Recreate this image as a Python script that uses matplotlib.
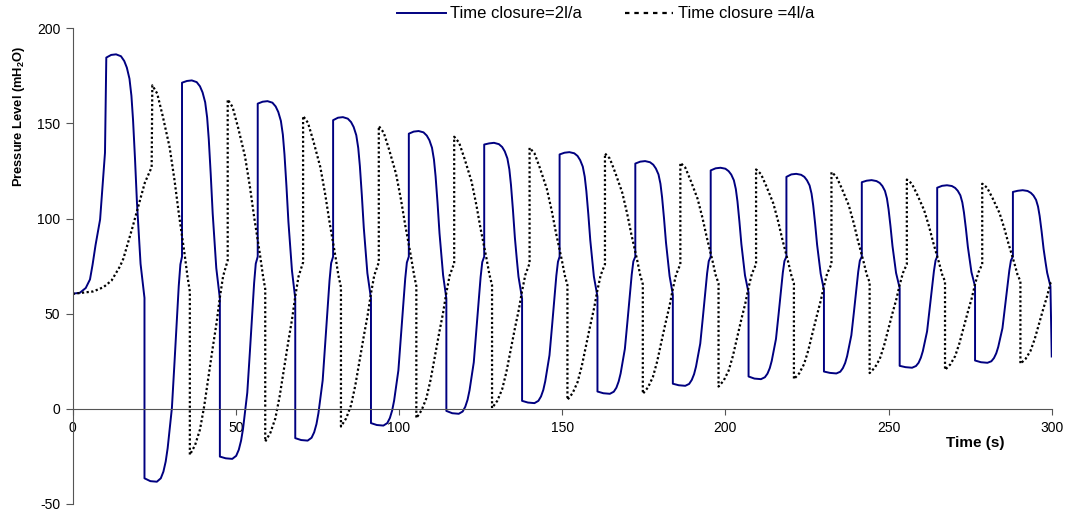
import matplotlib
matplotlib.use("Agg")
import matplotlib.pyplot as plt
from matplotlib.lines import Line2D

plt.rcParams['font.family'] = ['Liberation Sans', 'DejaVu Sans']
plt.rcParams['mathtext.fontset'] = 'custom'
plt.rcParams['mathtext.rm'] = 'Liberation Sans'
plt.rcParams['mathtext.bf'] = 'Liberation Sans:bold'
plt.rcParams['axes.unicode_minus'] = False

# ==============================================================================
#                 Values (time in s, head in m)
# ==============================================================================

# --- Time closure = 2l/a (solid) ---
blue_start_t = [0, 2.2, 4.0, 5.3, 6.1, 7.0, 8.4, 9.9]
blue_start_p = [60.5, 61.0, 63.5, 68.0, 75.8, 86.0, 99.5, 134.6]
blue_rise_t = [10.3, 33.5, 56.7, 79.8, 103.0, 126.1, 149.2, 172.4, 195.5,
               218.7, 241.8, 264.9, 288.1]
blue_fall_t = [22.0, 45.1, 68.2, 91.4, 114.5, 137.7, 160.8, 183.9, 207.1,
               230.2, 253.4, 276.5, 299.6]
# seconds after each rise / fall where the curve was read
blue_top_dt = [0, 1.5, 3.0, 4.5, 5.5, 6.3, 7.1, 7.7, 8.2, 8.8, 9.4, 10.0, 10.5]
blue_bottom_dt = [0, 1.8, 3.8, 5.0, 5.8, 6.5, 7.1, 7.7, 8.4, 9.2, 10.0, 10.5,
                  11.0]
blue_top = [
    [184.6, 186.0, 186.3, 185.3, 182.8, 179.3, 173.5, 164.5, 151.7, 131.3, 108.2, 90.3, 76.2, 58.3],
    [171.4, 172.3, 172.6, 171.7, 169.5, 166.3, 161.1, 153.1, 141.7, 123.3, 102.7, 86.6, 74.0, 58.0],
    [160.4, 161.4, 161.7, 160.9, 158.9, 156.0, 151.3, 144.1, 133.7, 117.1, 98.4, 83.9, 72.5, 58.0],
    [151.7, 153.0, 153.3, 152.5, 150.7, 148.1, 143.8, 137.1, 127.6, 112.3, 95.2, 81.8, 71.3, 58.0],
    [144.6, 145.7, 146.0, 145.3, 143.6, 141.2, 137.2, 131.0, 122.2, 108.2, 92.3, 80.0, 70.3, 58.0],
    [138.9, 139.5, 139.8, 139.1, 137.6, 135.3, 131.6, 125.9, 117.7, 104.6, 89.9, 78.4, 69.5, 58.0],
    [133.7, 134.6, 134.9, 134.3, 132.9, 130.7, 127.3, 122.0, 114.4, 102.3, 88.6, 78.0, 69.6, 59.0],
    [128.9, 129.9, 130.2, 129.6, 128.3, 126.3, 123.2, 118.3, 111.2, 100.0, 87.4, 77.5, 69.8, 60.0],
    [125.3, 126.4, 126.7, 126.2, 124.9, 123.1, 120.1, 115.5, 109.0, 98.4, 86.6, 77.4, 70.2, 61.0],
    [121.9, 123.2, 123.5, 123.0, 121.9, 120.1, 117.4, 113.1, 107.0, 97.3, 86.3, 77.7, 71.0, 62.5],
    [119.1, 119.9, 120.2, 119.7, 118.7, 117.1, 114.5, 110.6, 104.9, 95.8, 85.6, 77.7, 71.4, 63.5],
    [116.2, 117.2, 117.5, 117.1, 116.1, 114.6, 112.2, 108.5, 103.2, 94.7, 85.1, 77.7, 71.8, 64.4],
    [114.0, 114.6, 114.9, 114.5, 113.5, 112.1, 109.8, 106.3, 101.3, 93.2, 84.1, 77.0, 71.5, 64.4],
]
blue_bottom = [
    [-36.5, -38.0, -38.3, -36.5, -33.0, -27.7, -20.7, -11.1, 0.4, 24.4, 49.5, 64.6, 75.9, 80.0],
    [-25.1, -26.0, -26.3, -24.7, -21.5, -16.7, -10.5, -1.9, 8.5, 30.0, 52.6, 66.2, 76.3, 80.0],
    [-15.4, -16.4, -16.7, -15.2, -12.3, -8.0, -2.3, 5.5, 14.9, 34.6, 55.1, 67.4, 76.6, 80.0],
    [-7.5, -8.5, -8.8, -7.5, -4.8, -0.8, 4.4, 11.6, 20.2, 38.3, 57.1, 68.5, 76.9, 80.0],
    [-1.1, -2.3, -2.6, -1.4, 1.1, 4.8, 9.7, 16.4, 24.4, 41.2, 58.7, 69.3, 77.1, 80.0],
    [4.2, 3.3, 3.0, 4.2, 6.5, 9.9, 14.5, 20.7, 28.2, 43.8, 60.1, 70.0, 77.3, 80.0],
    [9.1, 8.2, 7.9, 9.0, 11.1, 14.4, 18.6, 24.5, 31.5, 46.1, 61.4, 70.6, 77.5, 80.0],
    [13.2, 12.4, 12.1, 13.1, 15.2, 18.2, 22.2, 27.7, 34.3, 48.1, 62.5, 71.2, 77.6, 80.0],
    [17.0, 15.9, 15.6, 16.6, 18.5, 21.4, 25.2, 30.4, 36.7, 49.7, 63.4, 71.6, 77.7, 80.0],
    [19.6, 18.9, 18.6, 19.5, 21.4, 24.1, 27.7, 32.7, 38.7, 51.1, 64.2, 72.0, 77.9, 80.0],
    [22.6, 21.9, 21.6, 22.5, 24.2, 26.9, 30.3, 35.0, 40.7, 52.6, 64.9, 72.4, 78.0, 80.0],
    [25.4, 24.5, 24.2, 25.0, 26.7, 29.2, 32.5, 37.0, 42.4, 53.8, 65.6, 72.7, 78.0, 80.0],
]
blue_end = (300.0, 27.5)

# --- Time closure = 4l/a (dotted) ---
dot_start_t = [0, 6.3, 9.4, 11.9, 14.5, 15.5, 18.1, 20.1, 22.1, 23.7, 24.2]
dot_start_p = [60.4, 61.7, 63.9, 67.4, 74.9, 78.8, 94.0, 106.5, 118.8, 125.0,
               127.0]
dot_rise_t = [24.4, 47.5, 70.6, 93.8, 116.9, 140.0, 163.1, 186.2, 209.4,
              232.5, 255.6, 278.7]
dot_fall_t = [35.9, 59.0, 82.2, 105.3, 128.5, 151.6, 174.7, 197.9, 221.0,
              244.2, 267.3, 290.4]
dot_top_dt = [0, 1.5, 3.2, 5.3, 6.8, 8.1, 9.9, 10.8]
dot_bottom_dt = [0, 1.6, 3.1, 4.4, 5.6, 7.0, 8.2, 9.2, 10.2]
dot_top = [
    [170.0, 165.7, 153.8, 137.5, 120.2, 102.9, 81.2, 69.3, 61.7],
    [162.6, 158.6, 147.7, 132.7, 116.8, 100.8, 80.9, 70.0, 63.0],
    [153.9, 150.3, 140.4, 126.9, 112.5, 98.2, 80.2, 70.3, 64.0],
    [148.6, 145.2, 136.0, 123.4, 109.9, 96.5, 79.6, 70.4, 64.5],
    [143.0, 139.9, 131.3, 119.6, 107.1, 94.6, 79.0, 70.5, 65.0],
    [137.2, 134.3, 126.4, 115.5, 104.0, 92.4, 78.0, 70.1, 65.0],
    [134.2, 131.5, 123.9, 113.6, 102.6, 91.6, 77.9, 70.3, 65.5],
    [129.3, 126.8, 119.8, 110.3, 100.2, 90.1, 77.4, 70.4, 66.0],
    [125.8, 123.4, 116.8, 107.9, 98.3, 88.7, 76.8, 70.2, 66.0],
    [124.4, 122.1, 115.7, 107.0, 97.8, 88.5, 76.9, 70.6, 66.5],
    [120.5, 118.4, 112.5, 104.4, 95.9, 87.3, 76.6, 70.7, 67.0],
    [118.3, 116.2, 110.6, 102.9, 94.7, 86.5, 76.2, 70.6, 67.0],
]
dot_bottom = [
    [-24.2, -19.1, -10.9, 1.4, 15.7, 32.0, 45.3, 58.6, 69.8, 78.0],
    [-17.2, -12.5, -5.0, 6.4, 19.5, 34.6, 46.9, 59.1, 69.5, 77.0],
    [-9.3, -5.0, 1.9, 12.3, 24.4, 38.2, 49.4, 60.6, 70.1, 77.0],
    [-4.9, -0.8, 5.7, 15.5, 26.8, 39.9, 50.5, 61.0, 70.0, 76.5],
    [0.4, 4.2, 10.3, 19.4, 30.1, 42.3, 52.1, 62.0, 70.4, 76.5],
    [4.7, 8.3, 14.0, 22.5, 32.5, 43.9, 53.2, 62.5, 70.3, 76.0],
    [7.9, 11.3, 16.8, 24.9, 34.5, 45.4, 54.2, 63.1, 70.6, 76.0],
    [11.7, 14.9, 20.1, 27.8, 36.8, 47.1, 55.4, 63.8, 70.9, 76.0],
    [15.6, 18.6, 23.5, 30.7, 39.2, 48.8, 56.7, 64.5, 71.2, 76.0],
    [18.8, 21.7, 26.2, 33.1, 41.1, 50.3, 57.7, 65.1, 71.4, 76.0],
    [20.5, 23.3, 27.7, 34.4, 42.1, 51.0, 58.2, 65.5, 71.6, 76.0],
    [23.7, 26.3, 30.5, 36.8, 44.1, 52.5, 59.3, 66.1],
]
dot_end = (300.0, 67.0)

x_ticks = [0, 50, 100, 150, 200, 250, 300]
y_ticks = [-50, 0, 50, 100, 150, 200]
labels = ['Time closure=2l/a', 'Time closure =4l/a']


def build_series(start_t, start_p, rise_t, fall_t, top, top_dt,
                 bottom, bottom_dt, end):
    """Chain the read points: jump up at rise_t, drop at fall_t."""
    t = list(start_t)
    p = list(start_p)
    for k, (tr, tf) in enumerate(zip(rise_t, fall_t)):
        t += [tr + d for d in top_dt] + [tf]
        p += top[k]
        if k < len(bottom):
            times = [tf + d for d in bottom_dt]
            if k + 1 < len(rise_t):
                times.append(rise_t[k + 1])
            n = min(len(times), len(bottom[k]))
            t += times[:n]
            p += bottom[k][:n]
    t.append(end[0])
    p.append(end[1])
    return t, p


blue_t, blue_p = build_series(blue_start_t, blue_start_p, blue_rise_t,
                              blue_fall_t, blue_top, blue_top_dt,
                              blue_bottom, blue_bottom_dt, blue_end)
dot_t, dot_p = build_series(dot_start_t, dot_start_p, dot_rise_t,
                            dot_fall_t, dot_top, dot_top_dt,
                            dot_bottom, dot_bottom_dt, dot_end)

# ==============================================================================
#                                 Plot
# ==============================================================================
fig = plt.figure(figsize=(10.72, 5.16), dpi=100)
ax = fig.add_axes([0.0678, 0.0233, 0.9133, 0.9219])

blue_col = '#000080'
ax.plot(blue_t, blue_p, color=blue_col, lw=1.4, solid_joinstyle='round')
ax.plot(dot_t, dot_p, color='black', lw=1.6, linestyle=(0, (1, 1.1)))

ax.set_xlim(0, 300)
ax.set_ylim(-50, 200)
ax.set_xticks(x_ticks)
ax.set_yticks(y_ticks)

axis_col = '#555555'
ax.spines['top'].set_visible(False)
ax.spines['right'].set_visible(False)
ax.spines['bottom'].set_position(('data', 0))
ax.spines['bottom'].set_color(axis_col)
ax.spines['left'].set_color(axis_col)
ax.tick_params(axis='both', direction='out', colors=axis_col,
               labelcolor='black', labelsize=10)
ax.tick_params(axis='y', length=5, pad=4)
ax.tick_params(axis='x', length=4, pad=5)

ax.text(-0.055, 0.814, r'Pressure Level (mH$_{\mathbf{2}}$O)',
        transform=ax.transAxes, rotation=90, ha='center', va='center',
        fontsize=9.3, fontweight='bold')
ax.text(0.922, 0.128, 'Time (s)', transform=ax.transAxes, ha='center',
        va='center', fontsize=11, fontweight='bold')

handles = [Line2D([], [], color=blue_col, lw=1.4),
           Line2D([], [], color='black', lw=1.6, linestyle=(0, (2, 2.2)))]
fig.legend(handles, labels, loc='center', bbox_to_anchor=(0.565, 0.973),
           ncol=2, frameon=False, fontsize=12, handlelength=2.9,
           handletextpad=0.25, columnspacing=2.6)

fig.savefig('out.png', dpi=100)
